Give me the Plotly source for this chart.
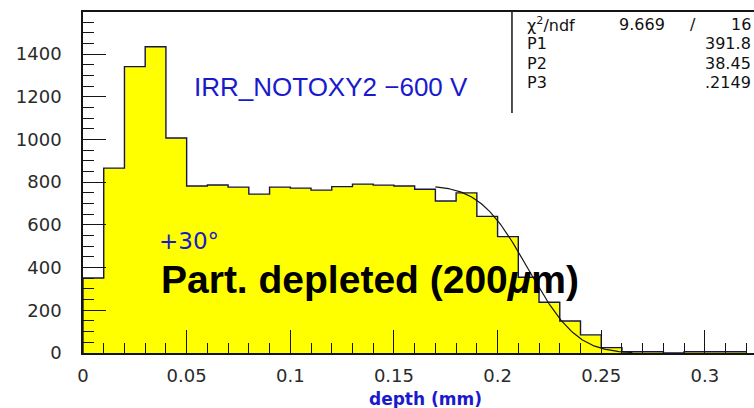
import math
import plotly.graph_objects as go

# Depth profile histogram: 0.01 mm bins starting at 0
bin_width = 0.01
bin_counts = [351, 866, 1341, 1434, 1007, 782, 787, 777, 744, 777,
              772, 763, 779, 791, 786, 782, 767, 712, 750, 640,
              545, 355, 238, 150, 85, 25, 6, 6, 0, 6,
              6, 6]
bin_lo = [i * bin_width for i in range(len(bin_counts))]
bin_centres = [lo + bin_width / 2 for lo in bin_lo]

# Fit result: P1 * erfc(P2 * (x - P3))
fit_p1, fit_p2, fit_p3 = 391.8, 38.45, 0.2149
fit_chi2, fit_ndf = 9.669, 16
fit_lo, fit_hi = 0.17, 0.265

x_ticks = [0, 0.05, 0.1, 0.15, 0.2, 0.25, 0.3]
x_tick_text = ["0", "0.05", "0.1", "0.15", "0.2", "0.25", "0.3"]
y_ticks = [0, 200, 400, 600, 800, 1000, 1200, 1400]
y_tick_text = ["0", "200", "400", "600", "800", "1000", "1200", "1400"]

BLUE = "#1a1acc"
INK = "#151515"
OUTLINE = "#16164a"

fig = go.Figure()

# Filled bins
fig.add_trace(go.Bar(
    x=bin_centres, y=bin_counts, width=bin_width,
    marker=dict(color="#ffff00", line=dict(width=0)),
    hoverinfo="skip", showlegend=False,
))

# Histogram outline as a step line
step_x = [0.0] + bin_lo + [bin_lo[-1] + bin_width]
step_y = [0] + bin_counts + [bin_counts[-1]]
fig.add_trace(go.Scatter(
    x=step_x, y=step_y, mode="lines", line_shape="hv",
    line=dict(color=OUTLINE, width=1.4),
    hoverinfo="skip", showlegend=False,
))

# Fit curve evaluated from the fitted parameters
n_fit = 150
fit_x = [fit_lo + (fit_hi - fit_lo) * i / (n_fit - 1) for i in range(n_fit)]
fit_y = [fit_p1 * math.erfc(fit_p2 * (x - fit_p3)) for x in fit_x]
fig.add_trace(go.Scatter(
    x=fit_x, y=fit_y, mode="lines",
    line=dict(color=INK, width=1.2),
    hoverinfo="skip", showlegend=False,
))

tick_font = dict(family="DejaVu Sans", size=18, color="#2a2a2a")

fig.update_layout(
    width=754, height=408,
    margin=dict(l=83, r=0, t=12, b=55),
    paper_bgcolor="white", plot_bgcolor="white",
    bargap=0,
    xaxis=dict(
        range=[0, 0.3237], showgrid=False, zeroline=False,
        showline=True, linecolor=INK, linewidth=1.5, mirror=True,
        ticks="inside", ticklen=23, tickwidth=1.4, tickcolor=INK,
        tickvals=x_ticks, ticktext=x_tick_text, tickfont=tick_font,
        ticklabelstandoff=6,
        minor=dict(dtick=0.01, tick0=0, ticks="inside", ticklen=10,
                   tickwidth=1.3, tickcolor=INK, showgrid=False),
    ),
    yaxis=dict(
        range=[0, 1597], showgrid=False, zeroline=False,
        showline=True, linecolor=INK, linewidth=1.5, mirror=False,
        ticks="inside", ticklen=23, tickwidth=1.4, tickcolor=INK,
        tickvals=y_ticks, ticktext=y_tick_text, tickfont=tick_font,
        ticklabelstandoff=16,
        minor=dict(dtick=50, tick0=0, ticks="inside", ticklen=11,
                   tickwidth=1.3, tickcolor=INK, showgrid=False),
    ),
)

annotations = [
    dict(text="IRR_NOTOXY2 \u2212600 V", x=0.0526, y=1245, xref="x", yref="y",
         xanchor="left", yanchor="middle", showarrow=False,
         font=dict(family="Liberation Sans", size=26, color=BLUE)),
    dict(text="+30\u00b0", x=0.0357, y=524, xref="x", yref="y",
         xanchor="left", yanchor="middle", showarrow=False,
         font=dict(family="DejaVu Sans", size=23, color=BLUE)),
    dict(text="<b>Part. depleted (200<i>\u03bc</i>m)</b>", x=0.0367, y=342,
         xref="x", yref="y", xanchor="left", yanchor="middle", showarrow=False,
         font=dict(family="Liberation Sans", size=39, color="#000000")),
    dict(text="<b>depth (mm)</b>", x=0.165, y=-0.1349, xref="x", yref="paper",
         xanchor="center", yanchor="middle", showarrow=False,
         font=dict(family="DejaVu Sans", size=17, color=BLUE)),
]

# Fit statistics box
stat_font = dict(family="DejaVu Sans", size=16, color="#111111")
row_y = [0.9619, 0.9076, 0.8504, 0.7933]
stat_names = ["\u03c7<sup>2</sup>/ndf", "P1", "P2", "P3"]
stat_values = ["%d" % fit_ndf, "%.1f" % fit_p1, "%.2f" % fit_p2, ("%.4f" % fit_p3)[1:]]
for name, val, yy in zip(stat_names, stat_values, row_y):
    annotations.append(dict(text=name, x=0.6587, y=yy, xref="paper", yref="paper",
                            xanchor="left", yanchor="middle", showarrow=False,
                            font=stat_font))
    annotations.append(dict(text=val, x=0.9985, y=yy, xref="paper", yref="paper",
                            xanchor="right", yanchor="middle", showarrow=False,
                            font=stat_font))
annotations.append(dict(text="%.3f" % fit_chi2, x=0.8703, y=row_y[0], xref="paper",
                        yref="paper", xanchor="right", yanchor="middle",
                        showarrow=False, font=stat_font))
annotations.append(dict(text="/", x=0.9091, y=row_y[0], xref="paper", yref="paper",
                        xanchor="center", yanchor="middle", showarrow=False,
                        font=stat_font))
fig.update_layout(annotations=annotations)

fig.add_shape(type="line", xref="paper", yref="paper",
              x0=0.6393, x1=0.6393, y0=0.7038, y1=1.0,
              line=dict(color=INK, width=1.5))

fig.write_html("out.html")
